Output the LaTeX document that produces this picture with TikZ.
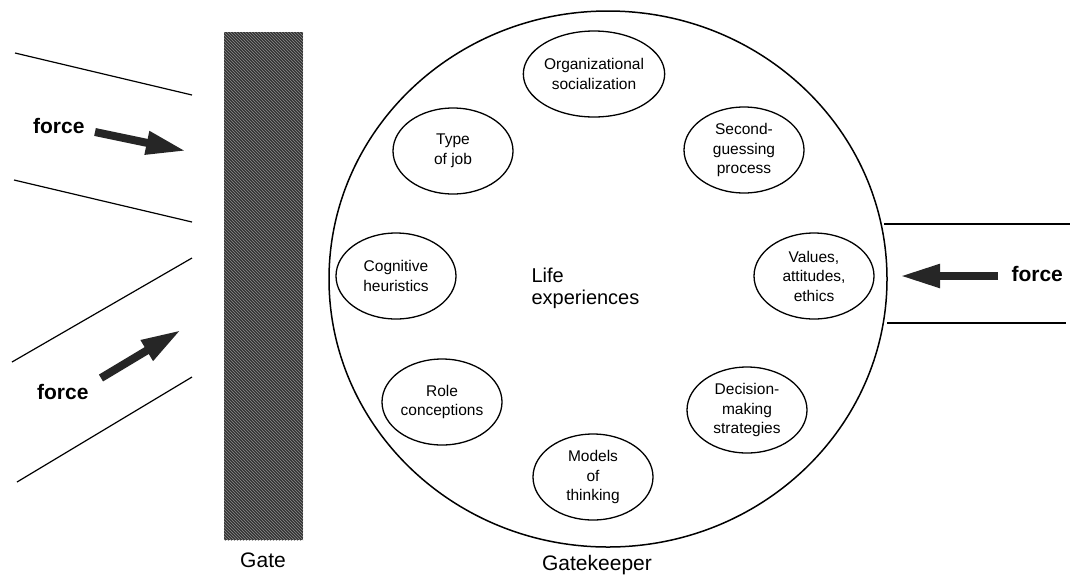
\documentclass[tikz,border=0pt]{standalone}
\usepackage{fontspec}
\setmainfont{Liberation Sans}
\usetikzlibrary{shapes.geometric,arrows.meta,patterns}
\begin{document}
\begin{tikzpicture}[x=1pt,y=-1pt,
  factor/.style={draw,ellipse,line width=1.3pt,minimum width=120pt,minimum height=86pt,inner sep=0pt,align=center,font=\fontsize{15.5pt}{19.5pt}\selectfont},
  flowline/.style={line width=1.2pt},
  forcearrow/.style={line width=8pt,-{Triangle[width=22pt,length=40pt]},draw=black!85},
  forcelabel/.style={font=\fontsize{21pt}{24pt}\selectfont\bfseries},
  caption/.style={font=\fontsize{21pt}{24pt}\selectfont}]
\useasboundingbox (0,0) rectangle (1075,582);
% gate
\fill[black!80] (224,32) rectangle (303,540);
\fill[pattern=north west lines,pattern color=black!45] (224,32) rectangle (303,540);
\node[caption] (gatelbl) at (263,560) {Gate};
% left flow lines
\coordinate (l1a) at (15,53);  \coordinate (l1b) at (192,95);
\coordinate (l2a) at (14,180); \coordinate (l2b) at (192,222);
\coordinate (l3a) at (12,362); \coordinate (l3b) at (192,258);
\coordinate (l4a) at (17,482); \coordinate (l4b) at (192,377);
\draw[flowline] (l1a) -- (l1b);
\draw[flowline] (l2a) -- (l2b);
\draw[flowline] (l3a) -- (l3b);
\draw[flowline] (l4a) -- (l4b);
% left forces
\node[forcelabel,anchor=east] (f1) at (88,126) {force};
\coordinate (f1s) at (95,132); \coordinate (f1e) at (186,151);
\draw[forcearrow] (f1s) -- (f1e);
\node[forcelabel,anchor=east] (f2) at (92,392) {force};
\coordinate (f2s) at (101,378); \coordinate (f2e) at (181,330);
\draw[forcearrow] (f2s) -- (f2e);
% gatekeeper circle
\draw[line width=1.5pt] (608,279) ellipse [x radius=279, y radius=268];
\node[caption] (gk) at (597,565) {Gatekeeper};
% right flow lines
\coordinate (r1a) at (884,224); \coordinate (r1b) at (1070,224);
\coordinate (r2a) at (887,323); \coordinate (r2b) at (1066,323);
\draw[flowline] (r1a) -- (r1b);
\draw[flowline] (r2a) -- (r2b);
\coordinate (f3s) at (998,276); \coordinate (f3e) at (900,276);
\draw[forcearrow] (f3s) -- (f3e);
\node[forcelabel,anchor=west] (f3) at (1008,274) {force};
% factors
\node[factor] (org) at (594,74) {Organizational\\socialization};
\node[factor] (job) at (453,151) {Type\\of job};
\node[factor] (sec) at (744,150) {Second-\\guessing\\process};
\node[factor] (cog) at (396,276) {Cognitive\\heuristics};
\node[factor] (val) at (814,276) {Values,\\attitudes,\\ethics};
\node[factor] (role) at (442,402) {Role\\conceptions};
\node[factor] (dec) at (747,410) {Decision-\\making\\strategies};
\node[factor] (mod) at (593,477) {Models\\of\\thinking};
\node[font=\fontsize{20pt}{22pt}\selectfont,align=left,anchor=west] (life) at (528,288) {Life\\experiences};
\end{tikzpicture}
\end{document}
